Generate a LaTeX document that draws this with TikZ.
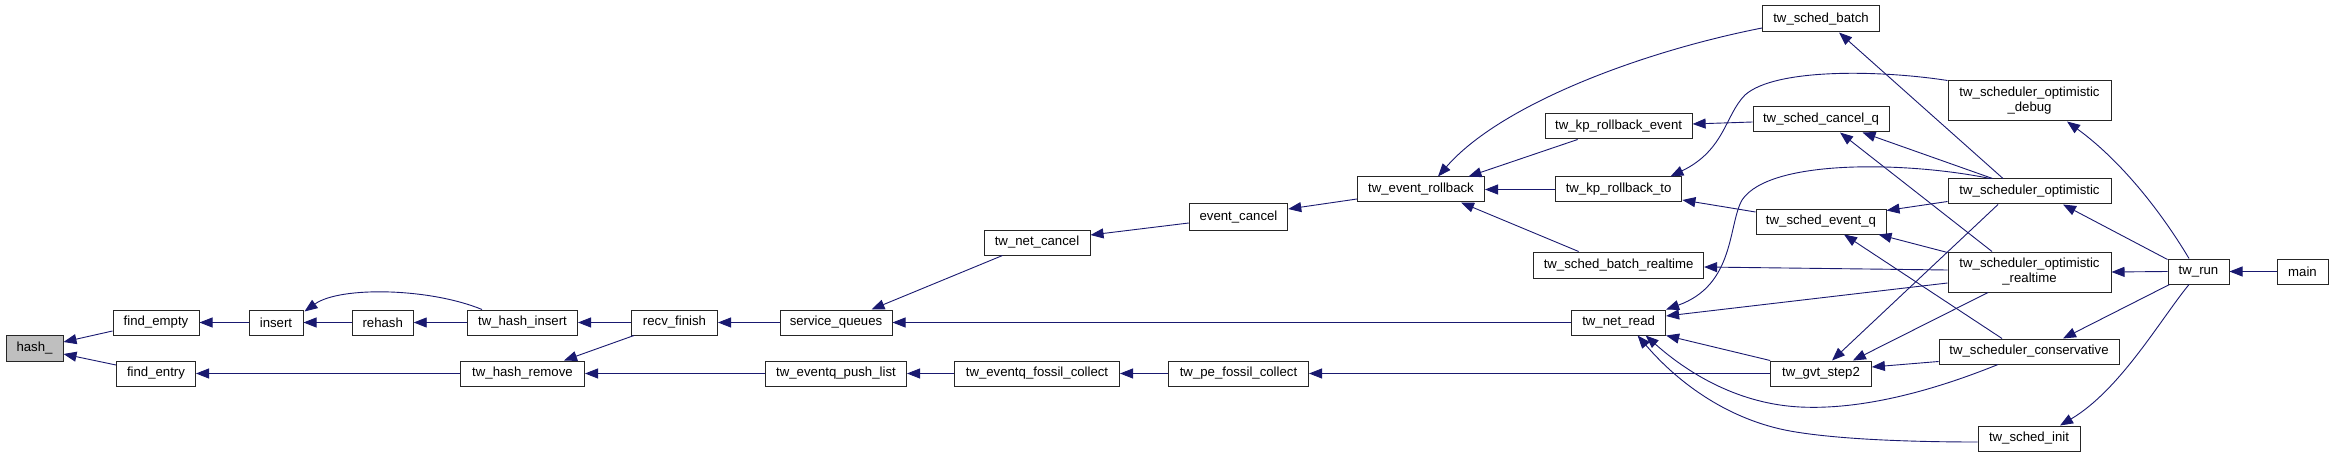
\documentclass[tikz,border=0pt]{standalone}
\usepackage{fontspec}
\newfontfamily\nodefont{Liberation Sans}
\usetikzlibrary{arrows.meta,calc}
\definecolor{edgeblue}{RGB}{25,25,112}
\definecolor{hashgray}{RGB}{191,191,191}
\begin{document}
\begin{tikzpicture}[x=1pt,y=-1pt,
  box/.style={draw=black!85, line width=1pt, fill=white, inner sep=0pt, minimum height=25pt,
    font=\nodefont\fontsize{13.2}{15}\selectfont, align=center},
  tall/.style={minimum height=40pt},
  edge/.style={draw=edgeblue, line width=0.9pt, -{Triangle[length=13pt,width=10pt]}}]
\useasboundingbox (0,0) rectangle (2333,457);
\fill[white] (0,0) rectangle (2333,457);

% nodes
\node[box, fill=hashgray, minimum width=57pt, minimum height=26pt] (hash) at (34.5,348) {hash\_};
\node[box, minimum width=86pt] (fe) at (156,322.5) {find\_empty};
\node[box, minimum width=79pt] (fn) at (156,373.5) {find\_entry};
\node[box, minimum width=54pt] (ins) at (276,322.5) {insert};
\node[box, minimum width=61pt] (rh) at (382.7,322.5) {rehash};
\node[box, minimum width=110pt] (thi) at (522.5,322.5) {tw\_hash\_insert};
\node[box, minimum width=124pt] (thr) at (522.5,373.5) {tw\_hash\_remove};
\node[box, minimum width=86pt] (rf) at (674.5,322.5) {recv\_finish};
\node[box, minimum width=112pt] (sq) at (836,322.5) {service\_queues};
\node[box, minimum width=141pt] (pl) at (836,373.5) {tw\_eventq\_push\_list};
\node[box, minimum width=106pt] (nc) at (1037,242.5) {tw\_net\_cancel};
\node[box, minimum width=165pt] (fc) at (1037,373.5) {tw\_eventq\_fossil\_collect};
\node[box, minimum width=98.5pt, minimum height=26pt] (ec) at (1238.5,217) {event\_cancel};
\node[box, minimum width=140pt] (pf) at (1238.5,373.5) {tw\_pe\_fossil\_collect};
\node[box, minimum width=127pt] (er) at (1421,189.5) {tw\_event\_rollback};
\node[box, minimum width=147pt] (kre) at (1618.6,126.5) {tw\_kp\_rollback\_event};
\node[box, minimum width=126.6pt] (krt) at (1618.6,189.5) {tw\_kp\_rollback\_to};
\node[box, minimum width=170pt, minimum height=26pt] (sbr) at (1618.6,265) {tw\_sched\_batch\_realtime};
\node[box, minimum width=94pt] (nr) at (1618.6,322.5) {tw\_net\_read};
\node[box, minimum width=117pt, minimum height=26pt] (sb) at (1821,19) {tw\_sched\_batch};
\node[box, minimum width=136pt] (scq) at (1821,119.5) {tw\_sched\_cancel\_q};
\node[box, minimum width=130pt] (seq) at (1821,221.5) {tw\_sched\_event\_q};
\node[box, minimum width=100.7pt] (gvt) at (1821,373.5) {tw\_gvt\_step2};
\node[box, tall, minimum width=163pt] (dbg) at (2029.5,101) {tw\_scheduler\_optimistic\\\_debug};
\node[box, minimum width=163pt] (so) at (2029.5,191.5) {tw\_scheduler\_optimistic};
\node[box, tall, minimum width=163pt] (rt) at (2029.5,272) {tw\_scheduler\_optimistic\\\_realtime};
\node[box, minimum width=180pt] (cons) at (2029,351.5) {tw\_scheduler\_conservative};
\node[box, minimum width=102pt] (si) at (2029,438.5) {tw\_sched\_init};
\node[box, minimum width=61pt] (run) at (2198.5,271.5) {tw\_run};
\node[box, minimum width=51pt] (main) at (2302.5,271.5) {main};

% edges (caller -> callee)
\draw[edge] ($(fe.west)+(0,8.5)$) -- ($(hash.east)+(0,-6)$);
\draw[edge] ($(fn.west)+(0,-8.5)$) -- ($(hash.east)+(0,6)$);
\draw[edge] (ins.west) -- (fe.east);
\draw[edge] (rh.west) -- (ins.east);
\draw[edge] ($(thi.north)+(-40.5,0)$) .. controls (430,288) and (340,286) .. ($(ins.north east)+(1,2)$);
\draw[edge] (thi.west) -- (rh.east);
\draw[edge] (rf.west) -- (thi.east);
\draw[edge] ($(rf.south west)+(3,0)$) -- ($(thr.north east)+(-21,0)$);
\draw[edge] (thr.west) -- (fn.east);
\draw[edge] (sq.west) -- (rf.east);
\draw[edge] (pl.west) -- (thr.east);
\draw[edge] ($(nc.south west)+(19,0)$) -- ($(sq.north east)+(-21,0)$);
\draw[edge] (nr.west) -- (sq.east);
\draw[edge] ($(ec.west)+(0,6)$) -- ($(nc.east)+(0,-7.5)$);
\draw[edge] (fc.west) -- (pl.east);
\draw[edge] (pf.west) -- (fc.east);
\draw[edge] (gvt.west) -- (pf.east);
\draw[edge] ($(er.west)+(0,9.5)$) -- ($(ec.east)+(0,-8)$);
\draw[edge] ($(sb.west)+(0,9)$) .. controls (1640,52) and (1500,105) .. ($(er.north)+(17,0)$);
\draw[edge] ($(kre.south)+(-41,0)$) -- ($(er.north east)+(-16.5,0)$);
\draw[edge] (krt.west) -- (er.east);
\draw[edge] ($(sbr.north)+(-40,0)$) -- ($(er.south east)+(-24,0)$);
\draw[edge] ($(scq.west)+(0,2.5)$) -- ($(kre.east)+(0,-2.5)$);
\draw[edge] ($(seq.west)+(0,-9.5)$) -- ($(krt.east)+(0,10.5)$);
\draw[edge] (dbg.north west) .. controls (1880,70) and (1775,68) .. (1745,95)
   .. controls (1725,115) and (1725,150) .. ($(krt.north east)+(-12,0)$);
\draw[edge] ($(so.north)+(-39.5,0)$) .. controls (1910,162) and (1770,158) .. (1742,200)
   .. controls (1728,225) and (1735,285) .. (nr.north east);
\draw[edge] ($(rt.west)+(0,-2)$) -- ($(sbr.east)+(0,2)$);
\draw[edge] ($(rt.west)+(0,11)$) -- ($(nr.east)+(0,-6.5)$);
\draw[edge] (gvt.north west) -- (nr.south east);
\draw[edge] ($(cons.south)+(-31,0)$) .. controls (1930,392) and (1860,410) .. (1800,407)
   .. controls (1740,404) and (1690,375) .. ($(nr.south)+(27,0)$);
\draw[edge] ($(si.west)+(0,3.5)$) .. controls (1920,442) and (1840,440) .. (1790,431)
   .. controls (1730,420) and (1680,385) .. ($(nr.south)+(19,0)$);
\draw[edge] ($(so.north)+(-26.5,0)$) -- ($(sb.south)+(18,0)$);
\draw[edge] ($(so.north)+(-37,0)$) -- ($(scq.south east)+(-27,0)$);
\draw[edge] ($(so.west)+(0,10)$) -- ($(seq.east)+(0,-11)$);
\draw[edge] ($(so.south)+(-31.5,0)$) -- ($(gvt.north)+(11,0)$);
\draw[edge] ($(rt.north)+(-37.5,0)$) -- ($(scq.south)+(19,0)$);
\draw[edge] ($(rt.north west)+(0,1)$) -- ($(seq.south east)+(-8,0)$);
\draw[edge] ($(rt.south)+(-41.5,0)$) -- ($(gvt.north east)+(-19,0)$);
\draw[edge] ($(cons.north)+(-27,0)$) -- ($(seq.south)+(23,0)$);
\draw[edge] ($(cons.west)+(0,10)$) -- ($(gvt.east)+(0,-6.5)$);
\draw[edge] ($(run.north)+(-9.5,0)$) .. controls (2160,210) and (2120,160) .. ($(dbg.south)+(37.5,0)$);
\draw[edge] ($(run.north west)+(0,1)$) -- ($(so.south)+(33.5,0)$);
\draw[edge] (run.west) -- (rt.east);
\draw[edge] ($(run.south west)+(2,0)$) -- ($(cons.north)+(34,0)$);
\draw[edge] ($(run.south)+(-9.5,0)$) .. controls (2160,320) and (2120,390) .. ($(si.north)+(31,0)$);
\draw[edge] (main.west) -- (run.east);
\end{tikzpicture}
\end{document}
